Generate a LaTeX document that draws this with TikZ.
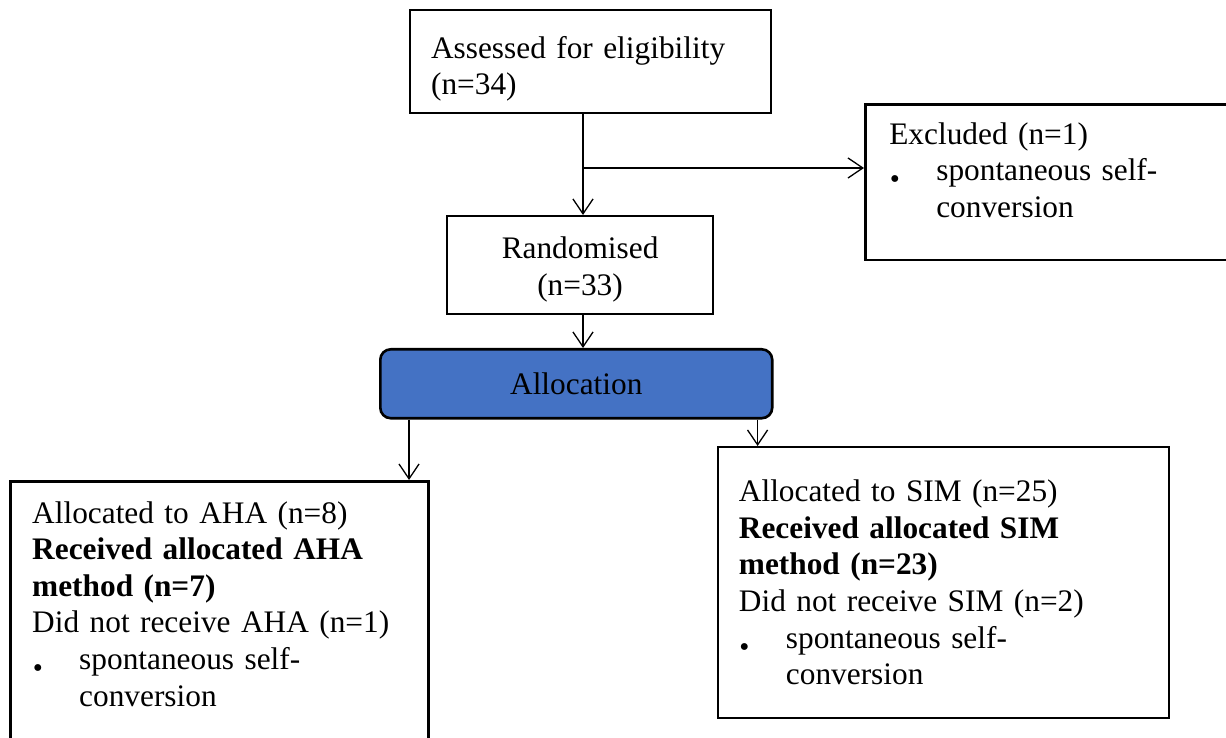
\documentclass[tikz,border=0pt]{standalone}
\usepackage{fontspec}
\setmainfont{Liberation Serif}
\usepackage{xcolor}
\usepackage{tikz}
\usetikzlibrary{arrows.meta,positioning}

\definecolor{allocblue}{HTML}{4472C4}
\newcommand{\bul}{\makebox[18pt][l]{\hspace{0.2pt}\raisebox{-3.2pt}{\fontsize{11}{11}\selectfont\textbullet}}}
\newcommand{\padtop}[1]{\rule{0pt}{#1}}
\newcommand{\padbot}[1]{\rule[-#1]{0pt}{#1}}

\begin{document}
\begin{tikzpicture}[
    x=0.383pt, y=-0.383pt,
    box/.style={rectangle, draw=black, line width=0.9pt, anchor=north west, align=left, inner ysep=0pt, font=\fontsize{12}{14}\selectfont},
    allocbox/.style={rectangle, rounded corners=4pt, draw=black, line width=1pt, fill=allocblue, anchor=north west, align=center, font=\fontsize{12}{14}\selectfont},
    arrow/.style={-{Straight Barb[length=5.7pt, width=7.7pt]}, line width=0.5pt},
]
\useasboundingbox (0,0) rectangle (1226,738);

% Enrolment
\node[box, minimum width=138.3pt, minimum height=39.4pt, text width=122.3pt, inner xsep=8pt] (assess) at (409,9)
    {\padtop{14pt}Assessed for eligibility\\(n=34)};
\node[box, minimum width=145.5pt, minimum height=59.7pt, text width=127.1pt, inner xsep=9.2pt, line width=1pt] (exclude) at (864,103)
    {Excluded (n=1)\\\bul spontaneous self-\\\hspace*{18pt}conversion\padbot{9.6pt}};
\node[box, minimum width=101.9pt, minimum height=37.5pt, text width=85.9pt, inner xsep=8pt, align=center, line width=0.8pt] (random) at (446,215)
    {\padtop{11.6pt}Randomised\\(n=33)};

% Allocation
\node[allocbox, minimum width=150.1pt, minimum height=26.4pt] (alloc) at (379,348) {Allocation};

% Groups
\node[box, minimum width=160.1pt, minimum height=107.2pt, text width=143.3pt, inner xsep=8.4pt, line width=1pt] (aha) at (9,480)
    {Allocated to AHA (n=8)\\\textbf{Received allocated AHA}\\\textbf{method (n=7)}\\Did not receive AHA (n=1)\\\bul spontaneous self-\\\hspace*{18pt}conversion\padbot{13.4pt}};
\node[box, minimum width=172.7pt, minimum height=103.8pt, text width=156.7pt, inner xsep=8pt, line width=0.8pt] (sim) at (717,446)
    {Allocated to SIM (n=25)\\\textbf{Received allocated SIM}\\\textbf{method (n=23)}\\Did not receive SIM (n=2)\\\bul spontaneous self-\\\hspace*{18pt}conversion};

% Arrows
\coordinate (split) at (583,168);
\draw[arrow] (split |- assess.south) -- (split |- random.north);
\draw[arrow] (split) -- (split -| exclude.west);
\draw[arrow] (split |- random.south) -- (split |- alloc.north);
\draw[arrow] ([xshift=11.5pt]alloc.south west) -- ([xshift=11.5pt]alloc.south west |- aha.north);
\draw[arrow] ([xshift=-6.1pt]alloc.south east) -- ([xshift=-6.1pt]alloc.south east |- sim.north);

\end{tikzpicture}
\end{document}
